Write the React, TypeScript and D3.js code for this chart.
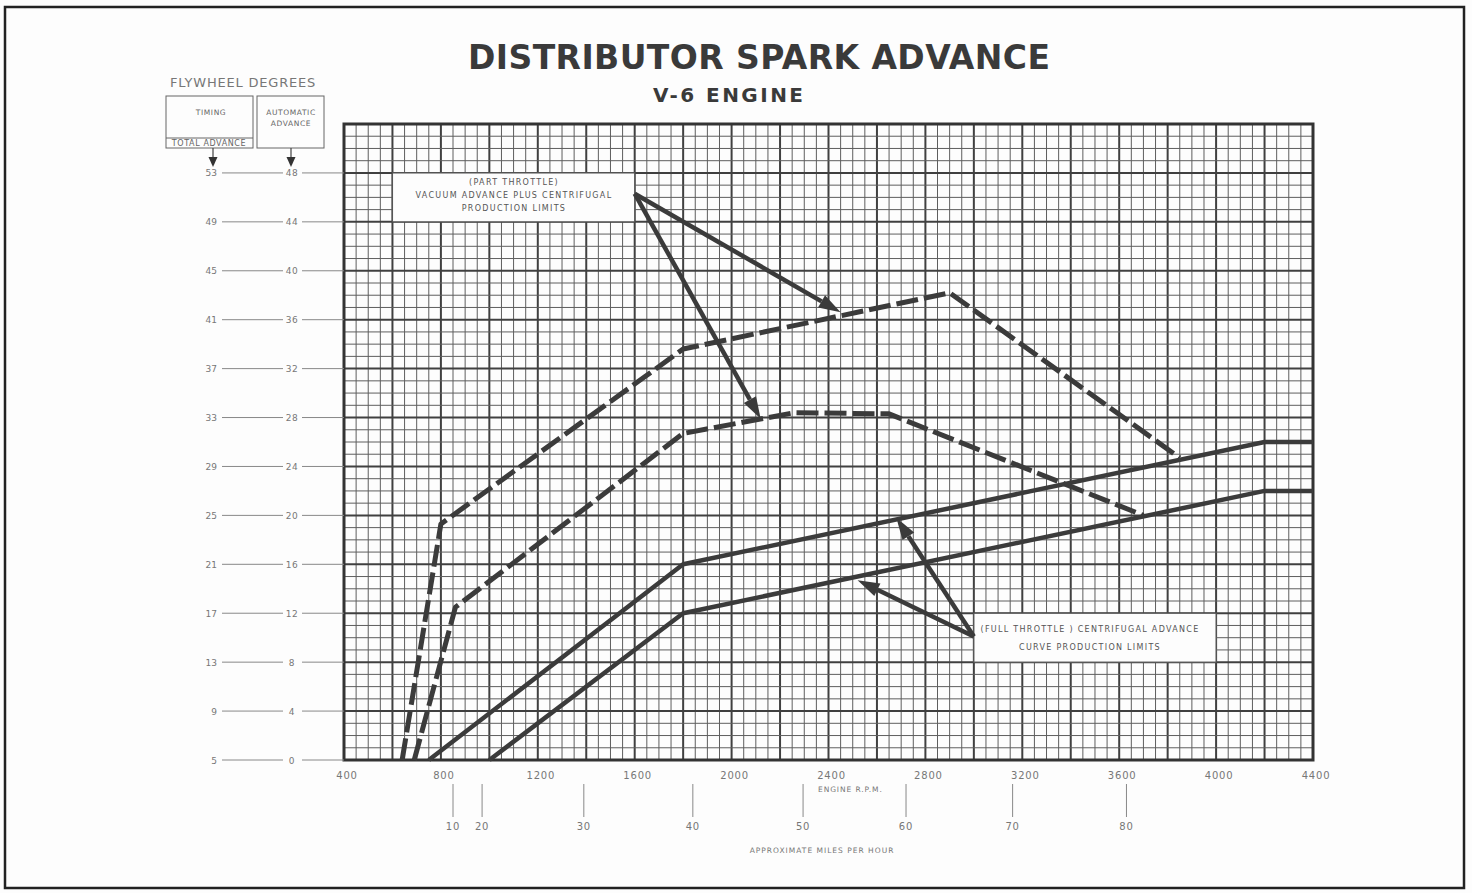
import React, { useEffect, useRef } from "react";
import * as d3 from "d3";

// engine rpm axis
const rpmTicks = [400, 800, 1200, 1600, 2000, 2400, 2800, 3200, 3600, 4000, 4400];
// automatic advance (degrees) and flywheel total advance labels
const autoTicks = [0, 4, 8, 12, 16, 20, 24, 28, 32, 36, 40, 44, 48];
const totalLabels = ["5", "9", "13", "17", "21", "25", "29", "33", "37", "41", "45", "49", "53"];
const autoLabels = ["0", "4", "8", "12", "16", "20", "24", "28", "32", "36", "40", "44", "48"];

// approximate mph marks below the rpm axis
const mphLabels = ["10", "20", "30", "40", "50", "60", "70", "80"];
const mphRpm = [850, 970, 1390, 1840, 2295, 2720, 3160, 3630];

// part throttle (vacuum + centrifugal) limits - dashed
const partUpperRpm = [640, 800, 1800, 2900, 3850];
const partUpperDeg = [0, 19.3, 33.6, 38.2, 24.7];
const partLowerRpm = [690, 860, 1800, 2260, 2650, 3700];
const partLowerDeg = [0, 12.5, 26.7, 28.4, 28.3, 20];

// full throttle centrifugal limits - solid
const fullUpperRpm = [750, 1800, 4200, 4400];
const fullUpperDeg = [0, 16, 26, 26];
const fullLowerRpm = [1000, 1800, 4200, 4400];
const fullLowerDeg = [0, 12, 22, 22];

const INK = "#3b3b3b";
const GRID = "#5e5e5e";
const LABEL = "#777";

const zip = (xs: number[], ys: number[]): [number, number][] =>
  xs.map((x, i) => [x, ys[i]]);

const App: React.FC = () => {
  const svgRef = useRef<SVGSVGElement>(null);

  useEffect(() => {
    if (!svgRef.current) return;
    const svg = d3.select(svgRef.current);
    svg.selectAll("*").remove();

    const left = 344;
    const right = 1313;
    const top = 124;
    const bottom = 760;

    const x = d3.scaleLinear().domain([400, 4400]).range([left, right]);
    const y = d3.scaleLinear().domain([0, 52]).range([bottom, top]);

    svg.append("rect").attr("width", 1472).attr("height", 893).attr("fill", "#fdfdfd");

    // page frame
    svg
      .append("rect")
      .attr("x", 5)
      .attr("y", 7)
      .attr("width", 1459)
      .attr("height", 881)
      .attr("fill", "none")
      .attr("stroke", "#222")
      .attr("stroke-width", 2.5);

    // titles
    svg
      .append("text")
      .attr("x", 759)
      .attr("y", 69)
      .attr("text-anchor", "middle")
      .attr("font-family", "'DejaVu Sans', sans-serif")
      .attr("font-weight", "bold")
      .attr("font-size", 33)
      .attr("fill", "#3a3a3a")
      .attr("textLength", 582)
      .text("DISTRIBUTOR   SPARK   ADVANCE");

    svg
      .append("text")
      .attr("x", 728)
      .attr("y", 102)
      .attr("text-anchor", "middle")
      .attr("font-family", "'DejaVu Sans', sans-serif")
      .attr("font-weight", "bold")
      .attr("font-size", 20)
      .attr("fill", "#3a3a3a")
      .attr("textLength", 150)
      .text("V-6 ENGINE");

    // grid
    const grid = svg.append("g");
    d3.range(400, 4401, 50).forEach((r) => {
      const heavy = r % 200 === 0;
      grid
        .append("line")
        .attr("x1", x(r))
        .attr("x2", x(r))
        .attr("y1", top)
        .attr("y2", bottom)
        .attr("stroke", heavy ? "#404040" : GRID)
        .attr("stroke-width", heavy ? 2 : 1);
    });
    d3.range(0, 53, 1).forEach((d) => {
      const heavy = d % 4 === 0;
      grid
        .append("line")
        .attr("x1", left)
        .attr("x2", right)
        .attr("y1", y(d))
        .attr("y2", y(d))
        .attr("stroke", heavy ? "#404040" : GRID)
        .attr("stroke-width", heavy ? 2 : 1);
    });
    grid
      .append("rect")
      .attr("x", left)
      .attr("y", top)
      .attr("width", right - left)
      .attr("height", bottom - top)
      .attr("fill", "none")
      .attr("stroke", "#333")
      .attr("stroke-width", 3);

    // rpm labels
    const small = "'DejaVu Sans', sans-serif";
    svg
      .append("g")
      .selectAll("text")
      .data(rpmTicks)
      .enter()
      .append("text")
      .attr("x", (d) => x(d) + 3)
      .attr("y", 779)
      .attr("text-anchor", "middle")
      .attr("font-family", small)
      .attr("font-size", 10)
      .attr("letter-spacing", 0.8)
      .attr("fill", LABEL)
      .text((d) => String(d));

    svg
      .append("text")
      .attr("x", 818)
      .attr("y", 792)
      .attr("text-anchor", "start")
      .attr("font-family", small)
      .attr("font-size", 7.5)
      .attr("letter-spacing", 0.9)
      .attr("fill", LABEL)
      .text("ENGINE  R.P.M.");

    // mph marks
    const mph = svg.append("g");
    mphRpm.forEach((r, i) => {
      mph
        .append("line")
        .attr("x1", x(r))
        .attr("x2", x(r))
        .attr("y1", 784)
        .attr("y2", 817)
        .attr("stroke", "#888")
        .attr("stroke-width", 1);
      mph
        .append("text")
        .attr("x", x(r))
        .attr("y", 830)
        .attr("text-anchor", "middle")
        .attr("font-family", small)
        .attr("font-size", 10)
        .attr("letter-spacing", 0.8)
        .attr("fill", LABEL)
        .text(mphLabels[i]);
    });
    svg
      .append("text")
      .attr("x", 822)
      .attr("y", 853)
      .attr("text-anchor", "middle")
      .attr("font-family", small)
      .attr("font-size", 7.5)
      .attr("letter-spacing", 1)
      .attr("fill", LABEL)
      .text("APPROXIMATE  MILES  PER  HOUR");

    // left scales: total advance / automatic advance
    const scales = svg.append("g");
    autoTicks.forEach((d, i) => {
      const yy = y(d);
      scales
        .append("text")
        .attr("x", 217)
        .attr("y", yy + 3.5)
        .attr("text-anchor", "end")
        .attr("font-family", small)
        .attr("font-size", 9)
        .attr("fill", LABEL)
        .text(totalLabels[i]);
      scales
        .append("line")
        .attr("x1", 222)
        .attr("x2", 283)
        .attr("y1", yy)
        .attr("y2", yy)
        .attr("stroke", "#888")
        .attr("stroke-width", 1);
      scales
        .append("text")
        .attr("x", 292)
        .attr("y", yy + 3.5)
        .attr("text-anchor", "middle")
        .attr("font-family", small)
        .attr("font-size", 9)
        .attr("letter-spacing", 0.6)
        .attr("fill", LABEL)
        .text(autoLabels[i]);
      scales
        .append("line")
        .attr("x1", 302)
        .attr("x2", left)
        .attr("y1", yy)
        .attr("y2", yy)
        .attr("stroke", "#888")
        .attr("stroke-width", 1);
    });

    // flywheel degrees heading and boxes
    svg
      .append("text")
      .attr("x", 243)
      .attr("y", 87)
      .attr("text-anchor", "middle")
      .attr("font-family", small)
      .attr("font-size", 13)
      .attr("letter-spacing", 0.8)
      .attr("fill", "#777")
      .text("FLYWHEEL DEGREES");

    const box = svg.append("g").attr("stroke", "#666").attr("fill", "none").attr("stroke-width", 1);
    box.append("rect").attr("x", 166).attr("y", 96).attr("width", 87).attr("height", 52);
    box.append("line").attr("x1", 166).attr("x2", 253).attr("y1", 138).attr("y2", 138);
    box.append("rect").attr("x", 257).attr("y", 96).attr("width", 67).attr("height", 52);

    const boxText = (tx: number, ty: number, t: string, size = 7.5) =>
      svg
        .append("text")
        .attr("x", tx)
        .attr("y", ty)
        .attr("text-anchor", "middle")
        .attr("font-family", small)
        .attr("font-size", size)
        .attr("letter-spacing", 0.6)
        .attr("fill", "#666")
        .text(t);
    boxText(211, 115, "TIMING");
    boxText(209, 146, "TOTAL ADVANCE", 8);
    boxText(291, 115, "AUTOMATIC");
    boxText(291, 126, "ADVANCE");

    const downArrow = (ax: number, y1: number, y2: number) => {
      svg
        .append("line")
        .attr("x1", ax)
        .attr("x2", ax)
        .attr("y1", y1)
        .attr("y2", y2 - 8)
        .attr("stroke", "#444")
        .attr("stroke-width", 1.2);
      svg
        .append("path")
        .attr("d", `M${ax - 4.5},${y2 - 10}L${ax + 4.5},${y2 - 10}L${ax},${y2}Z`)
        .attr("fill", "#333");
    };
    downArrow(213, 148, 167);
    downArrow(291, 148, 167);

    // curves
    const line = d3
      .line<[number, number]>()
      .x((d) => x(d[0]))
      .y((d) => y(d[1]));

    const curves = svg.append("g").attr("fill", "none").attr("stroke", INK).attr("stroke-linejoin", "round");
    [zip(partUpperRpm, partUpperDeg), zip(partLowerRpm, partLowerDeg)].forEach((pts) => {
      curves
        .append("path")
        .attr("d", line(pts))
        .attr("stroke-width", 5)
        .attr("stroke-dasharray", "22 6");
    });
    [zip(fullUpperRpm, fullUpperDeg), zip(fullLowerRpm, fullLowerDeg)].forEach((pts) => {
      curves.append("path").attr("d", line(pts)).attr("stroke-width", 4.5);
    });

    // annotation boxes
    const noteBox = (r0: number, r1: number, d0: number, d1: number, lines: string[], cx: number, ys: number[]) => {
      svg
        .append("rect")
        .attr("x", x(r0))
        .attr("y", y(d1))
        .attr("width", x(r1) - x(r0))
        .attr("height", y(d0) - y(d1))
        .attr("fill", "#fdfdfd")
        .attr("stroke", "#555")
        .attr("stroke-width", 1.2);
      lines.forEach((t, i) => {
        svg
          .append("text")
          .attr("x", cx)
          .attr("y", ys[i])
          .attr("text-anchor", "middle")
          .attr("font-family", small)
          .attr("font-size", 8)
          .attr("letter-spacing", 1.3)
          .attr("fill", "#555")
          .text(t);
      });
    };
    noteBox(
      600,
      1600,
      44,
      48,
      ["(PART  THROTTLE)", "VACUUM  ADVANCE  PLUS  CENTRIFUGAL", "PRODUCTION  LIMITS"],
      514,
      [185, 198, 211]
    );
    noteBox(
      3000,
      4000,
      8,
      12,
      ["(FULL  THROTTLE )  CENTRIFUGAL  ADVANCE", "CURVE  PRODUCTION  LIMITS"],
      1090,
      [632, 650]
    );

    // pointer arrows
    const arrow = (r0: number, d0: number, r1: number, d1: number) => {
      const x0 = x(r0);
      const y0 = y(d0);
      const x1 = x(r1);
      const y1 = y(d1);
      const ang = Math.atan2(y1 - y0, x1 - x0);
      const len = 22;
      const half = 7;
      const bx = x1 - len * Math.cos(ang);
      const by = y1 - len * Math.sin(ang);
      svg
        .append("line")
        .attr("x1", x0)
        .attr("y1", y0)
        .attr("x2", bx)
        .attr("y2", by)
        .attr("stroke", INK)
        .attr("stroke-width", 4.5);
      const px = -Math.sin(ang) * half;
      const py = Math.cos(ang) * half;
      svg
        .append("path")
        .attr("d", `M${x1},${y1}L${bx + px},${by + py}L${bx - px},${by - py}Z`)
        .attr("fill", INK);
    };
    arrow(1600, 46.3, 2450, 36.6);
    arrow(1600, 46.3, 2120, 27.9);
    arrow(3000, 10.1, 2680, 19.8);
    arrow(3000, 10.1, 2520, 14.7);
  }, []);

  return (
    <svg
      ref={svgRef}
      width={1472}
      height={893}
      style={{ position: "absolute", left: 0, top: 0 }}
    />
  );
};

export default App;
